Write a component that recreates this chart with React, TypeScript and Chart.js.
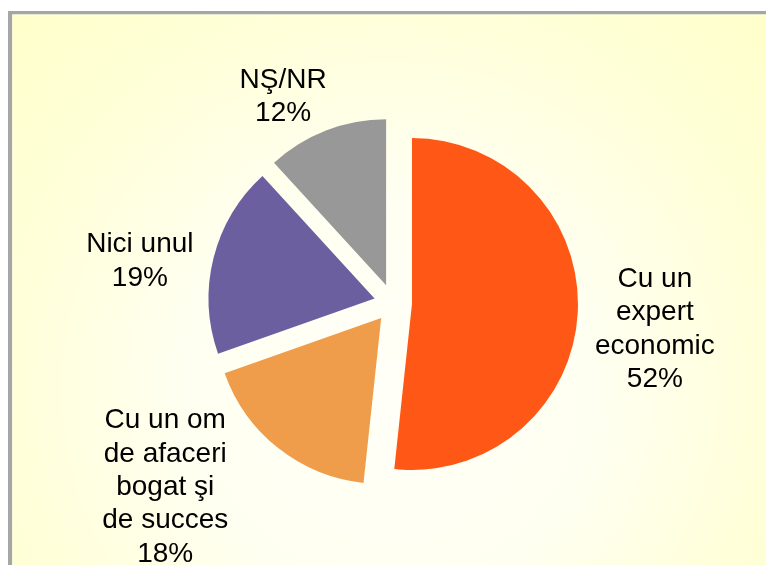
import React, { useEffect, useRef } from "react";
import { Chart, registerables } from "chart.js";

Chart.register(...registerables);

// ---- data ----
const categories = [
  "Cu un\nexpert\neconomic",
  "Cu un om\nde afaceri\nbogat şi\nde succes",
  "Nici unul",
  "NŞ/NR",
];
const values = [51.7, 17.9, 18.6, 11.8];
const sliceColors = ["#FF5816", "#F09D4B", "#6B5F9F", "#989898"];

// ---- label placement (relative to each exploded slice) ----
const labelAngleNudgeDeg = [2.35, 13.95, -4.5, -7.1];
const labelDistance = [244, 273, 238, 217];

const W = 766;
const H = 565;
const EXPLODE = 19;
const RADIUS = 166;
const FONT_SIZE = 28;
const LINE_H = 33.4;

export default function App() {
  const ref = useRef<HTMLCanvasElement>(null);

  useEffect(() => {
    const canvas = ref.current!;

    const bgPlugin = {
      id: "bgFrame",
      beforeDraw(chart: any) {
        const ctx = chart.ctx as CanvasRenderingContext2D;
        ctx.save();
        ctx.fillStyle = "#FFFFFF";
        ctx.fillRect(0, 0, W, H);
        ctx.fillStyle = "#A6A6A6";
        ctx.fillRect(8, 11, W - 8, 3.5);
        ctx.fillRect(8, 11, 4.3, H - 11);
        const g = ctx.createRadialGradient(390, 390, 0, 390, 390, 520);
        g.addColorStop(0, "#FFFFF8");
        g.addColorStop(0.4, "#FFFFF1");
        g.addColorStop(0.75, "#FFFFD8");
        g.addColorStop(1, "#FFFFCC");
        ctx.fillStyle = g;
        ctx.fillRect(12.3, 14.5, W - 12.3, H - 14.5);
        ctx.restore();
      },
    };

    const explodePlugin = {
      id: "explodeSlices",
      beforeDatasetDraw(chart: any, args: any) {
        const ctx = chart.ctx as CanvasRenderingContext2D;
        args.meta.data.forEach((arc: any) => {
          const mid = (arc.startAngle + arc.endAngle) / 2;
          ctx.save();
          ctx.translate(Math.cos(mid) * EXPLODE, Math.sin(mid) * EXPLODE);
          arc.draw(ctx);
          ctx.restore();
        });
        return false;
      },
    };

    const labelPlugin = {
      id: "sliceLabels",
      afterDatasetsDraw(chart: any) {
        const ctx = chart.ctx as CanvasRenderingContext2D;
        const meta = chart.getDatasetMeta(0);
        const data = chart.data.datasets[0].data as number[];
        const total = data.reduce((a, b) => a + b, 0);
        ctx.save();
        ctx.font = `${FONT_SIZE}px "Liberation Sans", Arial, sans-serif`;
        ctx.fillStyle = "#000000";
        ctx.textAlign = "center";
        ctx.textBaseline = "alphabetic";
        meta.data.forEach((arc: any, i: number) => {
          const mid = (arc.startAngle + arc.endAngle) / 2;
          const vx = arc.x + Math.cos(mid) * EXPLODE;
          const vy = arc.y + Math.sin(mid) * EXPLODE;
          const a = mid + (labelAngleNudgeDeg[i] * Math.PI) / 180;
          const cx = vx + Math.cos(a) * labelDistance[i];
          const cy = vy + Math.sin(a) * labelDistance[i];
          const lines = [
            ...String(chart.data.labels[i]).split("\n"),
            Math.round((data[i] / total) * 100) + "%",
          ];
          const capH = FONT_SIZE * 0.716;
          const blockH = capH + (lines.length - 1) * LINE_H;
          const y0 = cy - blockH / 2 + capH;
          lines.forEach((ln, k) => ctx.fillText(ln, cx, y0 + k * LINE_H));
        });
        ctx.restore();
      },
    };

    const chart = new Chart(canvas, {
      type: "pie",
      data: {
        labels: categories,
        datasets: [
          {
            data: values,
            backgroundColor: sliceColors,
            borderWidth: 0,
            radius: RADIUS,
          } as any,
        ],
      },
      options: {
        responsive: false,
        animation: false,
        layout: { padding: { left: 193, right: 173, top: 103, bottom: 62 } },
        plugins: {
          legend: { display: false },
          tooltip: { enabled: false },
        },
      },
      plugins: [bgPlugin, explodePlugin, labelPlugin],
    });

    return () => chart.destroy();
  }, []);

  return (
    <div style={{ position: "absolute", left: 0, top: 0, width: W, height: H }}>
      <canvas ref={ref} width={W} height={H} style={{ display: "block" }} />
    </div>
  );
}
